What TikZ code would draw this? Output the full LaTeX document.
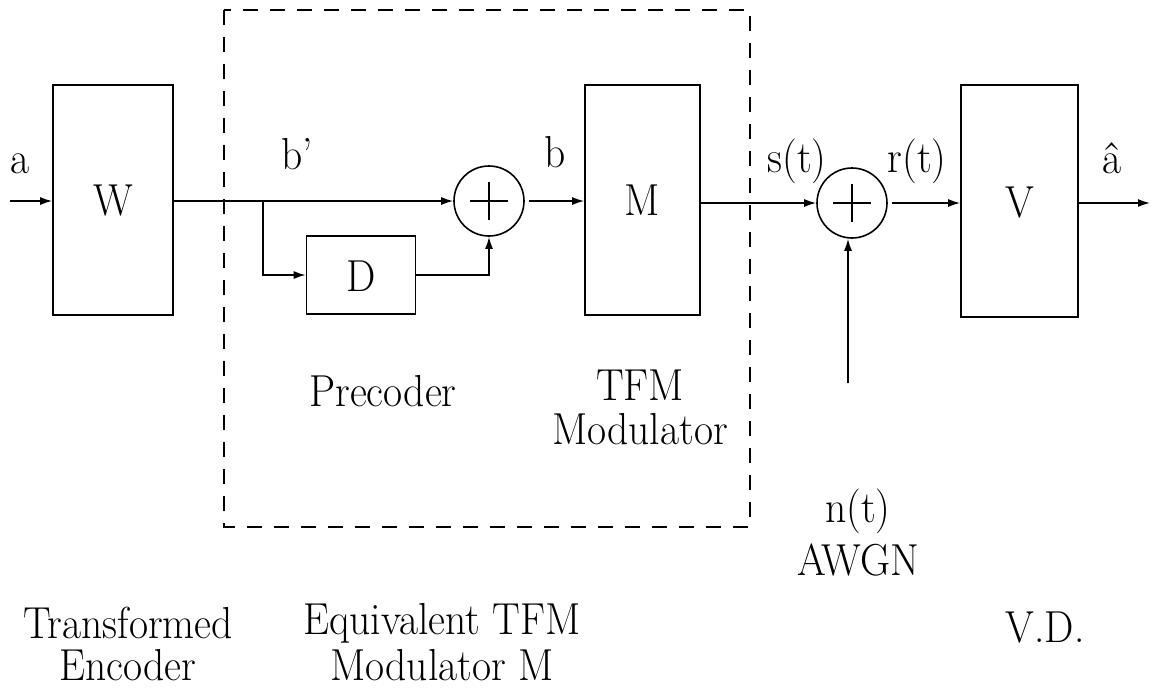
\documentclass[tikz,border=0pt]{standalone}
\usetikzlibrary{arrows.meta}
\newcommand{\vs}[1]{\scalebox{1}[1.08]{#1}}
\begin{document}
\begin{tikzpicture}[x=1pt,y=-1pt, line width=1.6pt,
  blk/.style={draw, inner sep=0pt},
  adder/.style={draw, circle, minimum size=70pt, inner sep=0pt},
  lab/.style={font=\fontsize{41.5}{48}\selectfont, inner sep=0pt},
  bl/.style={lab, anchor=base},
  arr/.style={-{Latex[length=12pt,width=8pt]}},
  dashbox/.style={dash pattern=on 15pt off 12pt, line width=1.4pt}]
\useasboundingbox (0,0) rectangle (1154,689);
% blocks
\node[blk, minimum width=120pt, minimum height=230pt] (W) at (113,200) {};
\node[blk, minimum width=115pt, minimum height=230pt] (M) at (642.5,200) {};
\node[blk, minimum width=117pt, minimum height=232pt] (V) at (1019.5,201) {};
\node[blk, minimum width=109pt, minimum height=78pt] (D) at (361,275) {};
\node[adder] (s1) at (489,201) {};
\node[adder] (s2) at (852,203) {};
\draw (s1.center) +(-19,0) -- +(19,0) (s1.center) +(0,-19) -- +(0,19);
\draw (s2.center) +(-19,0) -- +(19,0) (s2.center) +(0,-19) -- +(0,19);
% block texts
\node[lab] (tW) at (113,201) {\vs{W}};
\node[lab] (tM) at (642.5,200) {\vs{M}};
\node[lab] (tV) at (1019.5,203) {\vs{V}};
\node[lab] (tD) at (361,276) {\vs{D}};
% dashed frame
\draw[dashbox] (224,10) rectangle (750,527);
% connectors
\coordinate (ain) at (10,201);
\coordinate (br) at (263,201);
\coordinate (aout) at (1150,203);
\coordinate (nin) at (848,383);
\draw[arr] (ain) -- (ain -| W.west);
\draw[arr] (s1 -| W.east) -- (s1.west);
\draw[arr] (br) |- (D.west);
\draw[arr] (D.east) -| (s1.south);
\draw[arr, shorten <=4pt] (s1.east) -- (s1 -| M.west);
\draw[arr] (s2 -| M.east) -- (s2.west);
\draw[arr, shorten <=4pt] (s2.east) -- (s2 -| V.west);
\draw[arr] (s2 -| V.east) -- (aout);
\draw[arr] (nin) -- (nin |- s2.south);
% labels
\node[bl] (la) at (20,173) {\vs{a}};
\node[bl] (lbp) at (297,169) {\vs{b'}};
\node[bl] (lb) at (555,167) {\vs{b}};
\node[bl] (ls) at (797,172) {\vs{s(t)}};
\node[bl] (lr) at (917,172) {\vs{r(t)}};
\node[bl] (lah) at (1112,173) {\vs{\^a}};
\node[bl] (lpre) at (383,406) {\vs{Precoder}};
\node[bl] (ltfm) at (640,400) {\vs{TFM}};
\node[bl] (lmod) at (640,444) {\vs{Modulator}};
\node[bl] (ln) at (858,522) {\vs{n(t)}};
\node[bl] (lawgn) at (858,575) {\vs{AWGN}};
\node[bl] (ltr) at (128,638) {\vs{Transformed}};
\node[bl] (lenc) at (128,680) {\vs{Encoder}};
\node[bl] (leq) at (442,634) {\vs{Equivalent TFM}};
\node[bl] (leqm) at (442,680) {\vs{Modulator M}};
\node[bl] (lvd) at (1045,642) {\vs{V.D.}};
\end{tikzpicture}
\end{document}
